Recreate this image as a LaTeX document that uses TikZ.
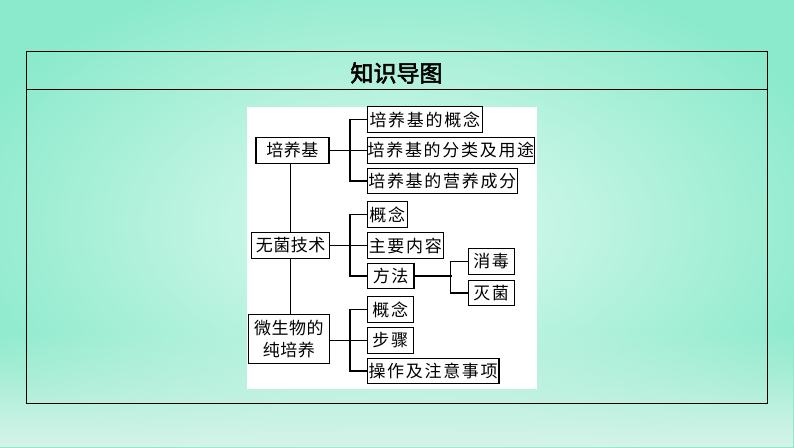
\documentclass[tikz,border=0pt]{standalone}
\usepackage{fontspec}
\usetikzlibrary{fadings}
\newfontfamily\cjk{Noto Sans CJK SC}[LetterSpace=3]
\newfontfamily\cjkwide{Noto Sans CJK SC}[LetterSpace=10]
\newfontfamily\cjkhead{Noto Sans CJK SC}[FakeBold=2.5]
\definecolor{mintedge}{RGB}{140,234,204}
\definecolor{mintmid}{RGB}{226,251,241}
\definecolor{mintpale}{RGB}{214,244,233}
\tikzset{
	frame/.style={line width=1.2pt, black},
	link/.style={line width=1.2pt, black},
	box/.style={draw, line width=1.2pt, fill=white, inner sep=0pt, minimum height=25.6pt},
	leaf/.style={box, anchor=west, font=\cjkwide\fontsize{17}{17}\selectfont},
	topic/.style={box, align=center, font=\cjk\fontsize{17}{22}\selectfont},
}
\begin{document}
\begin{tikzpicture}[x=1pt,y=-1pt]
	% Background
	\useasboundingbox (0,0) rectangle (794,447);
	\shade[inner color=mintmid, outer color=mintedge] (-60,-40) rectangle (854,487);
	\fill[mintpale, path fading=north] (0,330) rectangle (794,447); % pale water at the bottom
	
	% Frame with title row
	\draw[frame] (26.7,51.7) rectangle (767.3,403.3);
	\draw[frame] (26.7,89.3) -- (767.3,89.3);
	\node[font=\cjkhead\fontsize{23}{23}\selectfont] (title) at (396.5,73) {知识导图};
	
	% White panel behind the map
	\fill[white] (247,107) rectangle (537,389);
	
	% Main topics
	\node[topic, minimum width=73pt] (medium) at (292.5,150.5) {培养基};
	\node[topic, minimum width=78pt] (sterile) at (290.7,245.5) {无菌技术};
	\node[topic, minimum width=81pt, minimum height=49pt] (culture) at (288.8,338.8) {微生物的\\纯培养};
	
	% Sub topics of the medium
	\node[leaf, minimum width=115pt] (mconcept) at (366.7,119.5) {培养基的概念};
	\node[leaf, minimum width=167.3pt] (mtype) at (366.7,150.5) {培养基的分类及用途};
	\node[leaf, minimum width=150pt] (mnutri) at (366.7,181) {培养基的营养成分};
	
	% Sub topics of aseptic technique
	\node[leaf, minimum width=40pt] (sconcept) at (366.7,214.5) {概念};
	\node[leaf, minimum width=76pt] (scontent) at (366.7,245.5) {主要内容};
	\node[leaf, minimum width=46.6pt] (smethod) at (366.7,276) {方法};
	\node[leaf, minimum width=46pt] (disinfect) at (467.5,261.5) {消毒};
	\node[leaf, minimum width=46pt] (sterilize) at (467.5,293) {灭菌};
	
	% Sub topics of pure culture
	\node[leaf, minimum width=46pt] (cconcept) at (366.7,309.5) {概念};
	\node[leaf, minimum width=46pt] (csteps) at (366.7,340.5) {步骤};
	\node[leaf, minimum width=131.6pt] (cnote) at (366.7,371) {操作及注意事项};
	
	% Trunk
	\draw[link] (sterile.north |- medium.south) -- (sterile.north);
	\draw[link] (sterile.south) -- (sterile.south |- culture.north);
	
	% Branches
	\draw[link] (medium) -- (mtype);
	\draw[link] (mconcept.west) -- ++(-16.7,0) |- (mnutri.west);
	\draw[link] (sterile) -- (scontent);
	\draw[link] (sconcept.west) -- ++(-16.7,0) |- (smethod.west);
	\draw[link] (smethod.east) -- ++(37.2,0); % to the fork
	\draw[link] (disinfect.west) -- ++(-17,0) |- (sterilize.west);
	\draw[link] (culture.east |- csteps.west) -- (csteps.west);
	\draw[link] (cconcept.west) -- ++(-16.7,0) |- (cnote.west);
\end{tikzpicture}
\end{document}
